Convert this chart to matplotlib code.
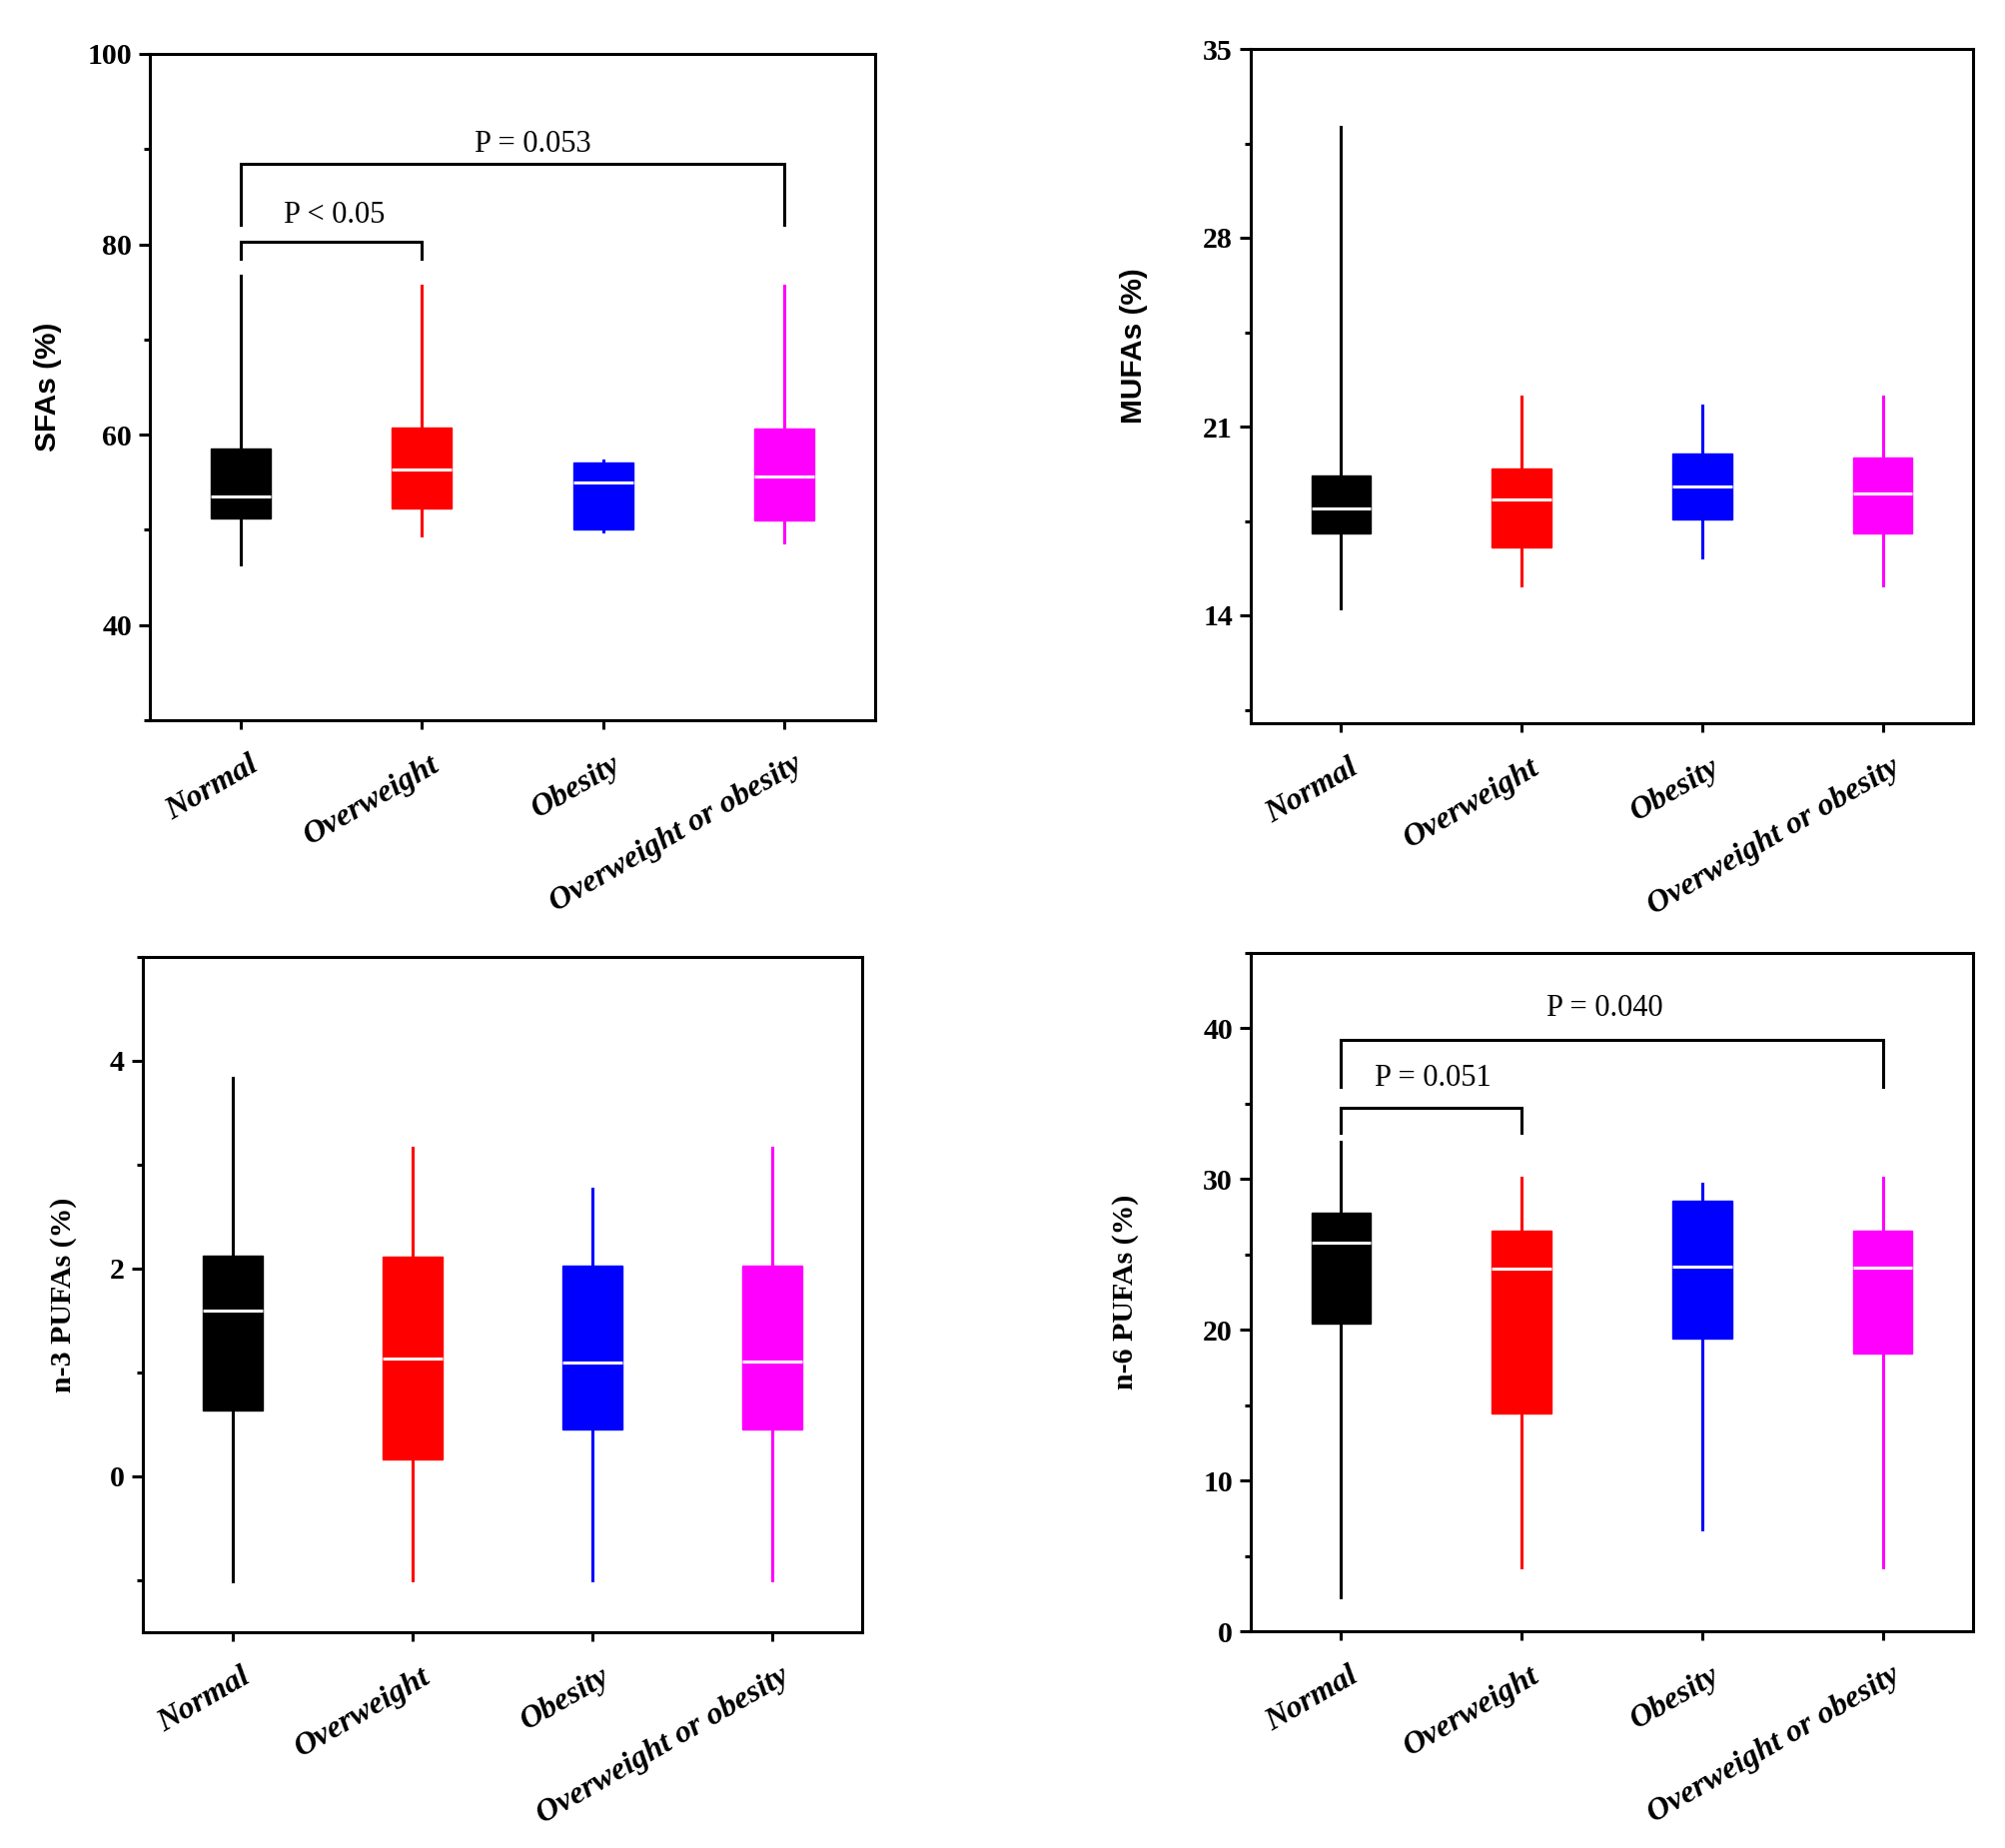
import matplotlib
matplotlib.use("Agg")
import matplotlib.pyplot as plt
from matplotlib.transforms import ScaledTranslation

# ---------------- data ----------------
categories = ["Normal", "Overweight", "Obesity", "Overweight or obesity"]
colors = ["#000000", "#FF0000", "#0000FF", "#FF00FF"]

# SFAs (%)
sfa_whislo = [46.4, 49.4, 49.8, 48.7]
sfa_q1 = [51.2, 52.3, 50.0, 51.0]
sfa_med = [53.5, 56.3, 55.0, 55.6]
sfa_q3 = [58.5, 60.8, 57.1, 60.6]
sfa_whishi = [76.7, 75.6, 57.3, 75.6]

# MUFAs (%)
mufa_whislo = [14.26, 15.12, 16.16, 15.12]
mufa_q1 = [17.02, 16.53, 17.55, 17.04]
mufa_med = [17.96, 18.29, 18.77, 18.51]
mufa_q3 = [19.18, 19.43, 19.99, 19.84]
mufa_whishi = [32.1, 22.12, 21.77, 22.12]

# n-3 PUFAs (%)
n3_whislo = [-1.01, -1.0, -1.0, -1.0]
n3_q1 = [0.635, 0.163, 0.455, 0.455]
n3_med = [1.60, 1.13, 1.10, 1.11]
n3_q3 = [2.125, 2.116, 2.03, 2.03]
n3_whishi = [3.84, 3.16, 2.77, 3.16]

# n-6 PUFAs (%)
n6_whislo = [2.28, 4.26, 6.78, 4.26]
n6_q1 = [20.43, 14.45, 19.39, 18.45]
n6_med = [25.79, 24.07, 24.19, 24.13]
n6_q3 = [27.74, 26.59, 28.54, 26.59]
n6_whishi = [32.48, 30.11, 29.67, 30.11]

# significance brackets: (group a, group b, bar level, leg end, text, text x, text y)
sfa_brackets = [(0, 1, 80.3, 78.5, "P < 0.05", 0.52, 83.0),
                (0, 3, 88.5, 82.1, "P = 0.053", 1.61, 90.5)]
n6_brackets = [(0, 1, 34.70, 33.07, "P = 0.051", 0.51, 36.7),
               (0, 3, 39.26, 36.09, "P = 0.040", 1.46, 41.3)]

# ---------------- figure ----------------
W, H = 2008, 1850
fig = plt.figure(figsize=(W / 100, H / 100), dpi=100)

SERIF = "Liberation Serif"
SANS = "Liberation Sans"

panels = [
    dict(rect=(150, 54, 876, 721), stats=(sfa_whislo, sfa_q1, sfa_med, sfa_q3, sfa_whishi),
         ylim=(30, 100), major=[40, 60, 80, 100], minor=[30, 50, 70, 90],
         ylabel="SFAs (%)", lfont=SANS, ldist=88, ly=0.5, brackets=sfa_brackets),
    dict(rect=(1252, 49, 1975, 724), stats=(mufa_whislo, mufa_q1, mufa_med, mufa_q3, mufa_whishi),
         ylim=(10, 35), major=[14, 21, 28, 35], minor=[10.5, 17.5, 24.5, 31.5],
         ylabel="MUFAs (%)", lfont=SANS, ldist=103, ly=0.56, brackets=[]),
    dict(rect=(143, 958, 863, 1634), stats=(n3_whislo, n3_q1, n3_med, n3_q3, n3_whishi),
         ylim=(-1.5, 5), major=[0, 2, 4], minor=[-1, 1, 3, 5],
         ylabel="n-3 PUFAs (%)", lfont=SERIF, ldist=66, ly=0.5, brackets=[]),
    dict(rect=(1252, 954, 1975, 1633), stats=(n6_whislo, n6_q1, n6_med, n6_q3, n6_whishi),
         ylim=(0, 45), major=[0, 10, 20, 30, 40], minor=[5, 15, 25, 35, 45],
         ylabel="n-6 PUFAs (%)", lfont=SERIF, ldist=112, ly=0.5, brackets=n6_brackets),
]

for p in panels:
    x0, y0, x1, y1 = p["rect"]
    ax = fig.add_axes([x0 / W, 1 - y1 / H, (x1 - x0) / W, (y1 - y0) / H])
    wl, q1, md, q3, wh = p["stats"]
    stats = []
    for i, name in enumerate(categories):
        stats.append(dict(label=name, whislo=wl[i], q1=q1[i], med=md[i], q3=q3[i],
                          whishi=wh[i], fliers=[]))
    positions = list(range(len(categories)))
    bp = ax.bxp(stats, positions=positions, widths=0.33, patch_artist=True,
                showcaps=False, showfliers=False,
                medianprops=dict(color="white", linewidth=2.2),
                whiskerprops=dict(linewidth=2.2),
                boxprops=dict(linewidth=1.0))
    for i, c in enumerate(colors):
        bp["boxes"][i].set_facecolor(c)
        bp["boxes"][i].set_edgecolor(c)
        bp["whiskers"][2 * i].set_color(c)
        bp["whiskers"][2 * i + 1].set_color(c)
    ax.set_xlim(-0.5, 3.5)
    ax.set_ylim(*p["ylim"])
    ax.set_yticks(p["major"])
    ax.set_yticks(p["minor"], minor=True)
    ax.set_xticks(positions)
    ax.set_xticklabels([])
    # rotated category labels placed below each tick
    off = ScaledTranslation(0.08, -0.30, fig.dpi_scale_trans)
    tr = ax.get_xaxis_transform() + off
    for xpos, name in zip(positions, categories):
        ax.text(xpos, 0, name, transform=tr, rotation=30, ha="right", va="top",
                rotation_mode="anchor", fontfamily=SERIF, fontweight="bold",
                fontstyle="italic", fontsize=23, clip_on=False)
    ax.set_yticklabels([("%g" % v) for v in p["major"]], fontfamily=SERIF,
                       fontweight="bold", fontsize=21.5)
    ax.tick_params(axis="y", which="major", direction="out", length=8, width=2.2, pad=5)
    ax.tick_params(axis="y", which="minor", direction="out", length=4.5, width=2.2)
    ax.tick_params(axis="x", which="major", direction="out", length=6.5, width=2.2, pad=15)
    for s in ax.spines.values():
        s.set_linewidth(2.2)
    ax.set_ylabel(p["ylabel"], fontfamily=p["lfont"], fontweight="bold", fontsize=21.5)
    axw = x1 - x0
    ax.yaxis.set_label_coords(-p["ldist"] / axw, p["ly"])

    for (a, b, ybar, yleg, txt, tx, ty) in p["brackets"]:
        ax.plot([positions[a], positions[a], positions[b], positions[b]],
                [yleg, ybar, ybar, yleg], color="black", linewidth=2.2,
                solid_joinstyle="miter")
        ax.text(tx, ty, txt, ha="center", va="center", fontfamily=SERIF, fontsize=22)

fig.savefig("out.png", dpi=100)
